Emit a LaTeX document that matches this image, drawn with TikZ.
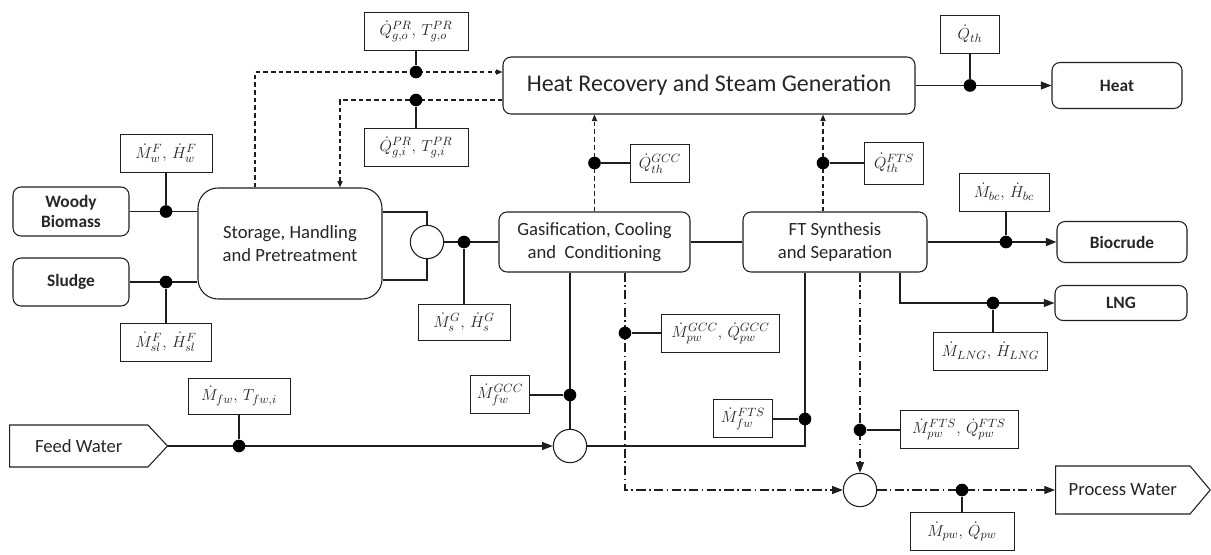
\documentclass[tikz,border=0pt]{standalone}
\usepackage{fontspec}
\setmainfont{Carlito}
\usetikzlibrary{arrows.meta,calc,shapes.symbols}
\definecolor{cL}{HTML}{1e1e1e}
\definecolor{cT}{HTML}{262626}
\tikzset{
  unit/.style={draw=cL,line width=0.8pt,rounded corners=6pt,align=center,
               text=cT,font=\fontsize{14}{17.5}\selectfont},
  ext/.style={draw=cL,line width=0.8pt,rounded corners=6pt,align=center,
              text=cT,font=\fontsize{13}{15.5}\selectfont\bfseries},
  port/.style={signal,signal to=east,draw=cL,line width=0.8pt,text=cT,
               font=\fontsize{14}{17}\selectfont,inner xsep=4pt},
  tag/.style={draw=cL,line width=0.7pt,minimum height=28.5pt,minimum width=44pt,
              inner xsep=4pt,text=cT,font=\fontsize{12.5}{14}\selectfont},
  mix/.style={circle,draw=cL,line width=0.8pt,fill=white,minimum size=25pt,inner sep=0pt},
  jn/.style={circle,fill=black,inner sep=0pt,minimum size=9.5pt},
  flow/.style={cL,line width=0.8pt},
  mainflow/.style={cL,line width=1.4pt},
  stem/.style={cL,line width=0.8pt},
  heatflow/.style={cL,line width=0.85pt,dash pattern=on 3.5pt off 2.3pt},
  pwflow/.style={cL,line width=0.85pt,dash pattern=on 7pt off 2.5pt on 1.2pt off 2.5pt},
  arr/.style={-{Triangle[length=8pt,width=6pt]}},
  sarr/.style={-{Triangle[length=5pt,width=4pt]}},
}

\begin{document}
\begin{tikzpicture}[x=0.75pt,y=-0.75pt]
  \useasboundingbox (0,0) rectangle (1211,554);
  \node[unit,minimum width=309pt,minimum height=42.75pt,font=\fontsize{18}{21}\selectfont] (hrsg) at (709,85.5) {Heat Recovery and Steam Generation};
  \node[ext,minimum width=97.5pt,minimum height=34.5pt] (heat) at (1117,85.5) {Heat};
  \node[ext,minimum width=87pt,minimum height=36.75pt] (woody) at (71,211.5) {Woody\\Biomass};
  \node[ext,minimum width=87pt,minimum height=36pt] (sludge) at (71,282) {Sludge};
  \node[unit,rounded corners=15pt,minimum width=138pt,minimum height=83.25pt] (store) at (290,243.5) {Storage, Handling\\and Pretreatment};
  \node[mix] (mixA) at (427,242) {};
  \node[unit,minimum width=143.25pt,minimum height=45pt] (gcc) at (594.5,242) {Gasification, Cooling\\and~ Conditioning};
  \node[unit,minimum width=138pt,minimum height=45pt] (fts) at (835,242) {FT Synthesis\\and Separation};
  \node[ext,minimum width=97.5pt,minimum height=30.75pt] (biocrude) at (1122,242) {Biocrude};
  \node[ext,minimum width=99pt,minimum height=26.25pt] (lng) at (1121,303) {LNG};
  \node[port,anchor=west,minimum width=118.5pt,minimum height=31.5pt,signal pointer angle=94] (feed) at (9,446) {Feed Water};
  \node[mix] (mixB) at (570,446) {};
  \node[mix] (mixC) at (860,490) {};
  \node[port,anchor=west,minimum width=116pt,minimum height=36pt,signal pointer angle=100] (pwater) at (1055,490) {Process Water};

  \node[tag,minimum width=78pt] (lQgo) at (416,31) {$\dot{Q}_{g,o}^{PR},\,T_{g,o}^{PR}$};
  \node[tag,minimum width=78pt] (lQgi) at (416,147) {$\dot{Q}_{g,i}^{PR},\,T_{g,i}^{PR}$};
  \node[tag,minimum width=69pt] (lMw) at (166,153) {$\dot{M}_{w}^{F},\,\dot{H}_{w}^{F}$};
  \node[tag,minimum width=68pt] (lMsl) at (166,342) {$\dot{M}_{sl}^{F},\,\dot{H}_{sl}^{F}$};
  \node[tag,minimum width=69pt,minimum height=27pt] (lMsG) at (464,322) {$\dot{M}_{s}^{G},\,\dot{H}_{s}^{G}$};
  \node[tag] (lQgcc) at (660,163.5) {$\dot{Q}_{th}^{GCC}$};
  \node[tag,minimum height=31.5pt] (lQfts) at (894,163) {$\dot{Q}_{th}^{FTS}$};
  \node[tag] (lQth) at (970,34) {$\dot{Q}_{th}$};
  \node[tag,minimum width=67.5pt] (lMbc) at (1004,192) {$\dot{M}_{bc},\,\dot{H}_{bc}$};
  \node[tag,minimum width=86pt] (lMlng) at (990.5,351) {$\dot{M}_{LNG},\,\dot{H}_{LNG}$};
  \node[tag,minimum width=88pt] (lMpg) at (720.5,333.5) {$\dot{M}_{pw}^{GCC},\,\dot{Q}_{pw}^{GCC}$};
  \node[tag] (lMfg) at (500,394.5) {$\dot{M}_{fw}^{GCC}$};
  \node[tag] (lMff) at (743,418.5) {$\dot{M}_{fw}^{FTS}$};
  \node[tag,minimum width=88.5pt] (lMpf) at (959,429.5) {$\dot{M}_{pw}^{FTS},\,\dot{Q}_{pw}^{FTS}$};
  \node[tag,minimum width=78pt] (lMpw) at (962,531.5) {$\dot{M}_{pw},\,\dot{Q}_{pw}$};
  \node[tag,minimum width=76.5pt,minimum height=27pt] (lMfw) at (239,396) {$\dot{M}_{fw},\,T_{fw,i}$};

  \draw[flow] (woody.east) -- (woody.east -| store.west);
  \draw[flow] (sludge.east) -- (sludge.east -| store.west);
  \draw[flow] ($(store.east)+(0,-31.5)$) -| (mixA.north);
  \draw[flow] ($(store.east)+(0,36.5)$) -| (mixA.south);
  \draw[mainflow] (mixA.east) -- (gcc.west);
  \draw[mainflow] (gcc.east) -- (fts.west);
  \draw[mainflow,arr] (fts.east) -- (biocrude.west);
  \draw[flow,arr] ($(fts.south)+(65,0)$) |- (lng.west);
  \draw[flow,arr] (hrsg.east) -- (heat.west);

  \draw[heatflow,sarr] ($(store.north)+(-35,0)$) |- ($(hrsg.west)+(0,-13.5)$);
  \draw[heatflow,sarr] ($(hrsg.west)+(0,14.5)$) -| ($(store.north)+(50,0)$);
  \draw[heatflow,sarr] (gcc.north) -- (gcc.north |- hrsg.south);
  \coordinate (ftsUp) at ($(fts.north)+(-12,0)$);
  \draw[heatflow,sarr] (ftsUp) -- (ftsUp |- hrsg.south);

  \draw[flow,arr] (feed.east) -- (mixB.west);
  \draw[flow] (mixB.north |- gcc.south) -- (mixB.north);
  \draw[flow] (mixB.east) -| ($(fts.south)+(-30,0)$);

  \draw[pwflow,arr] ($(gcc.south)+(30.5,0)$) |- (mixC.west);
  \draw[pwflow,arr] (mixC.north |- fts.south) -- (mixC.north);
  \draw[pwflow,arr] (mixC.east) -- (pwater.west);

  \node[jn] (jW) at (166,211.5) {};
  \node[jn] (jS) at (166,282) {};
  \node[jn] (jQo) at (416,72) {};
  \node[jn] (jQi) at (416,100) {};
  \node[jn] (jG) at (464,242) {};
  \node[jn] (jQg) at (594.5,163) {};
  \node[jn] (jQf) at (823,163) {};
  \node[jn] (jQt) at (970,85.5) {};
  \node[jn] (jBc) at (1006,242) {};
  \node[jn] (jL) at (993,303) {};
  \node[jn] (jPg) at (625,333) {};
  \node[jn] (jFg) at (570,395) {};
  \node[jn] (jFf) at (805,419) {};
  \node[jn] (jPf) at (860,430) {};
  \node[jn] (jPw) at (962,490) {};
  \node[jn] (jFw) at (239,446) {};

  \draw[stem] (jW) -- (lMw);
  \draw[stem] (jS) -- (lMsl);
  \draw[stem] (jQo) -- (lQgo);
  \draw[stem] (jQi) -- (lQgi);
  \draw[stem] (jG) -- (lMsG);
  \draw[stem] (jQg) -- (jQg -| lQgcc.west);
  \draw[stem] (jQf) -- (jQf -| lQfts.west);
  \draw[stem] (jQt) -- (lQth);
  \draw[stem] (jBc) -- (jBc |- lMbc.south);
  \draw[stem] (jL) -- (jL |- lMlng.north);
  \draw[stem] (jPg) -- (jPg -| lMpg.west);
  \draw[stem] (jFg) -- (jFg -| lMfg.east);
  \draw[stem] (jFf) -- (jFf -| lMff.east);
  \draw[stem] (jPf) -- (jPf -| lMpf.west);
  \draw[stem] (jPw) -- (lMpw);
  \draw[stem] (jFw) -- (lMfw);
\end{tikzpicture}
\end{document}
